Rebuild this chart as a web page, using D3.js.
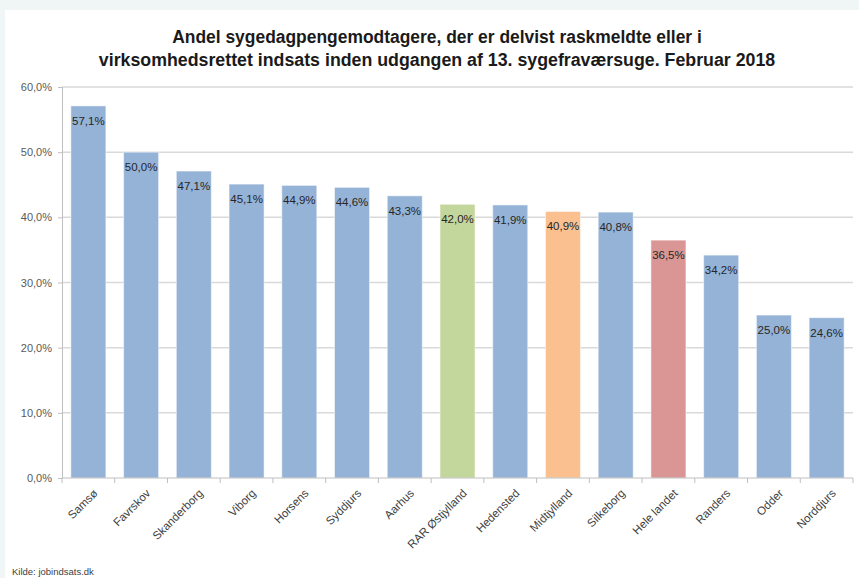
<!DOCTYPE html>
<html>
<head>
<meta charset="utf-8">
<script src="https://cdn.jsdelivr.net/npm/d3@7"></script>
<style>
  body { margin: 0; background: #f0f5f6; }
  svg { display: block; }
</style>
</head>
<body>
<div id="chart"></div>
<script>
var categories = ["Samsø","Favrskov","Skanderborg","Viborg","Horsens","Syddjurs","Aarhus","RAR Østjylland","Hedensted","Midtjylland","Silkeborg","Hele landet","Randers","Odder","Norddjurs"];
var values = [57.1, 50.0, 47.1, 45.1, 44.9, 44.6, 43.3, 42.0, 41.9, 40.9, 40.8, 36.5, 34.2, 25.0, 24.6];
var yTicks = [0, 10, 20, 30, 40, 50, 60];
var titleLines = ["Andel sygedagpengemodtagere, der er delvist raskmeldte eller i",
                  "virksomhedsrettet indsats inden udgangen af 13. sygefraværsuge. Februar 2018"];
var source = "Kilde: jobindsats.dk";

var blue = "#95b3d7";
var specialColors = {"RAR Østjylland": "#c3d69b", "Midtjylland": "#fac090", "Hele landet": "#d99694"};

var width = 859;
var height = 578;
var margin = {left: 62, right: 6, top: 87, bottom: 100};

var svg = d3.select("#chart").append("svg")
    .attr("width", width)
    .attr("height", height)
    .style("font-family", "'Liberation Sans', Arial, sans-serif");

// white panel
svg.append("rect")
    .attr("x", 5).attr("y", 10)
    .attr("width", width - 5).attr("height", height - 10)
    .attr("fill", "#ffffff");

var x = d3.scaleBand()
    .domain(categories)
    .range([margin.left, width - margin.right])
    .paddingInner(0.336)
    .paddingOuter(0.168);

var y = d3.scaleLinear()
    .domain([0, 60])
    .range([height - margin.bottom, margin.top]);

// gridlines
svg.append("g")
  .selectAll("line")
  .data(yTicks.filter(function(d) { return d > 0; }))
  .enter()
  .append("line")
  .attr("x1", margin.left)
  .attr("x2", width - margin.right)
  .attr("y1", function(d) { return y(d); })
  .attr("y2", function(d) { return y(d); })
  .attr("stroke", "#d9d9d9")
  .attr("stroke-width", 1.5);

// y axis
var yAxis = svg.append("g")
    .attr("transform", "translate(" + margin.left + ",0)")
    .call(d3.axisLeft(y).tickValues(yTicks).tickSize(4).tickPadding(6)
      .tickFormat(function(d) { return d.toFixed(1).replace(".", ",") + "%"; }));
yAxis.select(".domain").attr("stroke", "#bfbfbf");
yAxis.selectAll(".tick line").attr("stroke", "#bfbfbf");
yAxis.selectAll("text")
    .attr("fill", "#595959")
    .style("font-size", "11px")
    .style("font-family", "'Liberation Sans', Arial, sans-serif");

// bars
svg.append("g")
  .selectAll("rect")
  .data(categories)
  .enter()
  .append("rect")
  .attr("x", function(d) { return x(d); })
  .attr("y", function(d, i) { return y(values[i]); })
  .attr("width", x.bandwidth())
  .attr("height", function(d, i) { return y(0) - y(values[i]); })
  .attr("fill", function(d) { return specialColors[d] || blue; })
  .attr("stroke", "#ffffff")
  .attr("stroke-opacity", 0.5)
  .attr("stroke-width", 1);

// value labels
svg.append("g")
  .selectAll("text")
  .data(categories)
  .enter()
  .append("text")
  .attr("x", function(d) { return x(d) + x.bandwidth() / 2; })
  .attr("y", function(d, i) { return y(values[i]) + 19; })
  .attr("text-anchor", "middle")
  .attr("fill", "#262626")
  .style("font-size", "11.5px")
  .text(function(d, i) { return values[i].toFixed(1).replace(".", ",") + "%"; });

// x axis
var xAxis = svg.append("g")
    .attr("transform", "translate(0," + y(0) + ")");
xAxis.append("line")
    .attr("x1", margin.left).attr("x2", width - margin.right)
    .attr("stroke", "#bfbfbf");
var bounds = categories.map(function(d) { return x(d) - x.step() * x.paddingInner() / 2; });
bounds.push(width - margin.right);
xAxis.selectAll(".xtick")
  .data(bounds)
  .enter()
  .append("line")
  .attr("class", "xtick")
  .attr("x1", function(d) { return d; })
  .attr("x2", function(d) { return d; })
  .attr("y1", 0).attr("y2", 5)
  .attr("stroke", "#bfbfbf");

xAxis.selectAll(".xlabel")
  .data(categories)
  .enter()
  .append("text")
  .attr("class", "xlabel")
  .attr("transform", function(d) {
      return "translate(" + (x(d) + x.bandwidth() / 2 + 10) + ",16) rotate(-45)";
  })
  .attr("text-anchor", "end")
  .attr("fill", "#404040")
  .style("font-size", "11.5px")
  .text(function(d) { return d; });

// title
var titleTargets = [530, 677];
var titleY = [43, 66];
titleLines.forEach(function(line, i) {
  var t = svg.append("text")
    .attr("x", 437)
    .attr("y", titleY[i])
    .attr("text-anchor", "middle")
    .attr("fill", "#1a1a1a")
    .style("font-weight", "bold")
    .style("font-size", "17px")
    .text(line);
  var len = t.node().getComputedTextLength();
  t.style("font-size", (17 * titleTargets[i] / len).toFixed(2) + "px");
});

// source
svg.append("text")
  .attr("x", 12)
  .attr("y", 575)
  .attr("fill", "#404040")
  .style("font-size", "9.5px")
  .text(source);
</script>
</body>
</html>
